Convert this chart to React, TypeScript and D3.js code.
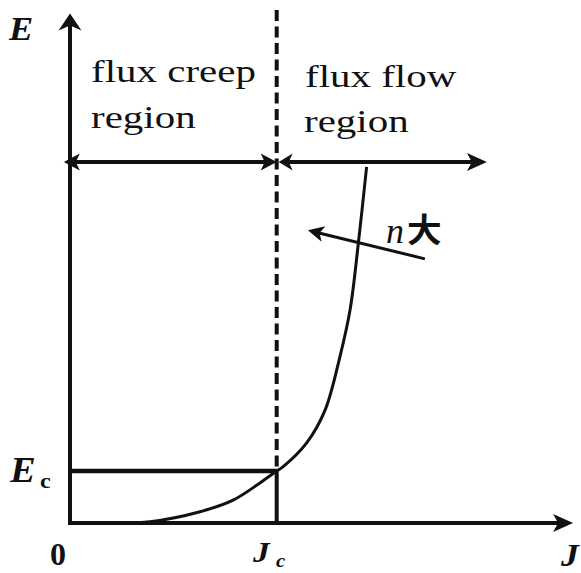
import React from "react";
import * as d3 from "d3";

// E–J characteristic of a superconductor (normalised: J / Jc, E / Ec)
const curveJ = [0, 0.2, 0.387, 0.629, 0.789, 0.919, 1.0, 1.03, 1.145, 1.234, 1.306, 1.355, 1.395, 1.435];
const curveE = [0, 0, 0.025, 0.217, 0.44, 0.77, 1.0, 1.08, 1.54, 2.17, 3.2, 4.1, 5.38, 6.85];

const Jc = 1;
const Ec = 1;
const axisJMax = 2.434;
const axisEMax = 9.8;
const regionE = 6.94; // height of the region arrows
const regionJ = [-0.03, 1, 2.017]; // left end, boundary, right end
const nArrowFrom = [1.717, 5.08];
const nArrowTo = [1.151, 5.63];

const W = 581;
const H = 573;
const INK = "#111";
const SERIF = "Liberation Serif, Times New Roman, serif";

const x = d3.scaleLinear().domain([0, Jc]).range([70, 276.7]);
const y = d3.scaleLinear().domain([0, Ec]).range([523, 471]);

function arrowHead(tx: number, ty: number, fx: number, fy: number, len: number, hw: number, notch: number) {
  const dx = tx - fx;
  const dy = ty - fy;
  const d = Math.hypot(dx, dy);
  const ux = dx / d;
  const uy = dy / d;
  const px = -uy;
  const py = ux;
  const bx = tx - ux * len;
  const by = ty - uy * len;
  const nx = tx - ux * (len - notch);
  const ny = ty - uy * (len - notch);
  return `M${tx},${ty}L${bx + px * hw},${by + py * hw}L${nx},${ny}L${bx - px * hw},${by - py * hw}Z`;
}

function Label(props: { x: number; y: number; size: number; sx?: number; weight?: string; italic?: boolean; family?: string; children: React.ReactNode }) {
  const { sx = 1.28 } = props;
  return (
    <text
      transform={`translate(${props.x},${props.y}) scale(${sx},1)`}
      fontFamily={props.family ?? SERIF}
      fontSize={props.size}
      fontWeight={props.weight ?? "normal"}
      fontStyle={props.italic ? "italic" : "normal"}
      fill={INK}
    >
      {props.children}
    </text>
  );
}

export default function App() {
  const pts: [number, number][] = curveJ.map((j, i) => [x(j), y(curveE[i])]);
  const line = d3.line().curve(d3.curveCatmullRom.alpha(0.5))(pts) ?? "";

  const x0 = x(0);
  const y0 = y(0);
  const xTop = y(axisEMax);
  const xEnd = x(axisJMax);
  const xc = x(Jc);
  const yc = y(Ec);
  const yr = y(regionE);
  const [rl, rm, rr] = regionJ.map((v) => x(v));

  const ax1 = x(nArrowFrom[0]);
  const ay1 = y(nArrowFrom[1]);
  const ax2 = x(nArrowTo[0]);
  const ay2 = y(nArrowTo[1]);

  return (
    <svg width={W} height={H} style={{ position: "absolute", left: 0, top: 0, background: "#fff" }}>
      {/* axes */}
      <line x1={x0} y1={y0 + 2} x2={x0} y2={xTop + 10} stroke={INK} strokeWidth={4} />
      <path d={arrowHead(x0, xTop, x0, y0, 17, 11.5, 5)} fill={INK} />
      <line x1={x0 - 2} y1={y0} x2={xEnd - 12} y2={y0} stroke={INK} strokeWidth={4} />
      <path d={arrowHead(xEnd, y0, x0, y0, 20, 9, 5)} fill={INK} />

      {/* Jc boundary: dashed above Ec, solid below */}
      <line x1={xc} y1={10} x2={xc} y2={yc} stroke={INK} strokeWidth={4} strokeDasharray="11,5.5" />
      <line x1={xc} y1={yc} x2={xc} y2={y0} stroke={INK} strokeWidth={4} />

      {/* Ec level */}
      <line x1={x0} y1={yc} x2={xc} y2={yc} stroke={INK} strokeWidth={4.5} />

      {/* E–J curve */}
      <path d={line} fill="none" stroke={INK} strokeWidth={3} />

      {/* region arrows */}
      <line x1={rl + 8} y1={yr} x2={rm - 8} y2={yr} stroke={INK} strokeWidth={4} />
      <path d={arrowHead(rl, yr, rm, yr, 16, 8.5, 4)} fill={INK} />
      <path d={arrowHead(rm, yr, rl, yr, 16, 8.5, 4)} fill={INK} />
      <line x1={rm + 8} y1={yr} x2={rr - 10} y2={yr} stroke={INK} strokeWidth={4} />
      <path d={arrowHead(rm + 2, yr, rr, yr, 14, 8.5, 4)} fill={INK} />
      <path d={arrowHead(rr, yr, rm, yr, 20, 9, 5)} fill={INK} />

      {/* n increasing arrow */}
      <line x1={ax1} y1={ay1} x2={ax2 + 8} y2={ay2 + 2} stroke={INK} strokeWidth={3} />
      <path d={arrowHead(ax2, ay2, ax1, ay1, 16, 8, 4)} fill={INK} />

      {/* region labels */}
      <Label x={91} y={82} size={32}>flux creep</Label>
      <Label x={91} y={128} size={32}>region</Label>
      <Label x={305} y={87} size={32}>flux flow</Label>
      <Label x={304} y={132} size={32}>region</Label>

      {/* n label */}
      <Label x={386} y={243} size={36} italic sx={1}>n</Label>
      <Label x={407} y={242} size={33} weight="bold" sx={1.05} family="Noto Sans CJK SC, sans-serif">大</Label>

      {/* axis labels */}
      <Label x={9} y={40} size={33} weight="bold" italic sx={1.1}>E</Label>
      <Label x={10} y={482} size={35} weight="bold" italic sx={1.1}>E</Label>
      <Label x={40} y={488} size={22} weight="bold" sx={1.1}>c</Label>
      <Label x={50} y={565} size={32} weight="bold" sx={1}>0</Label>
      <Label x={253} y={562} size={29} weight="bold" italic sx={1.15}>J</Label>
      <Label x={276} y={567} size={19} weight="bold" italic sx={1.1}>c</Label>
      <Label x={561} y={566} size={31} weight="bold" italic sx={1.15}>J</Label>
    </svg>
  );
}
